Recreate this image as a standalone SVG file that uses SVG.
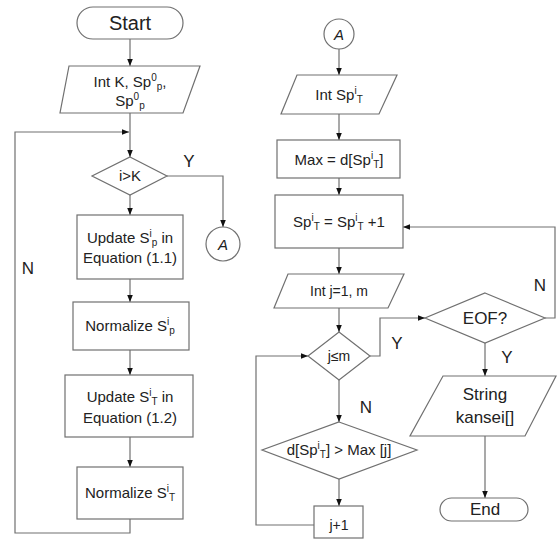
<svg xmlns="http://www.w3.org/2000/svg" width="558" height="544" viewBox="0 0 558 544">
<style>
.s{fill:#fff;stroke:#707070;stroke-width:1.2}
.c{fill:none;stroke:#707070;stroke-width:1.2}
text{font-family:"Liberation Sans",Arial,sans-serif;fill:#222;text-anchor:middle}
.t15{font-size:15px}
.t17{font-size:17px}
.sm{font-size:10px}
</style>
<defs>
<marker id="ah" viewBox="0 0 10 10" refX="10" refY="5" markerWidth="7" markerHeight="7" markerUnits="userSpaceOnUse" orient="auto">
<path d="M0,1 L10,5 L0,9z" fill="#111"/>
</marker>
</defs>
<rect width="558" height="544" fill="#fff"/>
<g id="connectors">
<path class="c" d="M130,39 V66" marker-end="url(#ah)"/>
<path class="c" d="M130,113 V157" marker-end="url(#ah)"/>
<path class="c" d="M130,519 V533 H15 V132 H129" marker-end="url(#ah)"/>
<path class="c" d="M130,195 V215" marker-end="url(#ah)"/>
<path class="c" d="M167,176 H223 V227" marker-end="url(#ah)"/>
<path class="c" d="M130,279 V302" marker-end="url(#ah)"/>
<path class="c" d="M130,350 V375" marker-end="url(#ah)"/>
<path class="c" d="M130,437 V467" marker-end="url(#ah)"/>
<path class="c" d="M339,49 V75" marker-end="url(#ah)"/>
<path class="c" d="M339,114 V140" marker-end="url(#ah)"/>
<path class="c" d="M339,178 V195" marker-end="url(#ah)"/>
<path class="c" d="M339,248 V274" marker-end="url(#ah)"/>
<path class="c" d="M339,308 V332" marker-end="url(#ah)"/>
<path class="c" d="M370,356 H380 V318 H425" marker-end="url(#ah)"/>
<path class="c" d="M545,318 H555 V227 H403" marker-end="url(#ah)"/>
<path class="c" d="M485,343 V376" marker-end="url(#ah)"/>
<path class="c" d="M485,436 V498" marker-end="url(#ah)"/>
<path class="c" d="M339,380 V422" marker-end="url(#ah)"/>
<path class="c" d="M339,479 V506" marker-end="url(#ah)"/>
<path class="c" d="M314,525 H256 V356 H308" marker-end="url(#ah)"/>
</g>
<g id="labels">
<text x="189" y="167" class="t17">Y</text>
<text x="28" y="274" class="t17">N</text>
<text x="540" y="291" class="t17">N</text>
<text x="397" y="349" class="t17">Y</text>
<text x="507" y="363" class="t17">Y</text>
<text x="366" y="413" class="t17">N</text>
</g>
<g id="start">
<rect class="s" x="77" y="7" width="106" height="32" rx="16"/>
<text x="130" y="30" style="font-size:20px">Start</text>
</g>
<g id="input-k">
<polygon class="s" points="69,66 200,66 183,113 60,113"/>
<text x="130" y="87" class="t15">Int K, Sp<tspan class="sm" dy="-6">0</tspan><tspan class="sm" dy="9">p</tspan><tspan dy="-3">,</tspan></text>
<text x="130" y="106" class="t15">Sp<tspan class="sm" dy="-6">0</tspan><tspan class="sm" dy="9">p</tspan></text>
</g>
<g id="dec-ik">
<polygon class="s" points="130,157 167,176 130,195 92,176"/>
<text x="130" y="181" class="t15">i&gt;K</text>
</g>
<g id="conn-a1">
<circle class="s" cx="223" cy="244" r="17"/>
<text x="223" y="250" class="t15" style="font-style:italic">A</text>
</g>
<g id="update-p">
<rect class="s" x="77" y="215" width="106" height="64"/>
<text x="130" y="243" class="t15">Update S<tspan class="sm" dy="-6">i</tspan><tspan class="sm" dy="9">p</tspan><tspan dy="-3"> in</tspan></text>
<text x="130" y="263" class="t15">Equation (1.1)</text>
</g>
<g id="norm-p">
<rect class="s" x="73" y="302" width="116" height="48"/>
<text x="130" y="331" class="t15">Normalize S<tspan class="sm" dy="-6">i</tspan><tspan class="sm" dy="9">p</tspan></text>
</g>
<g id="update-t">
<rect class="s" x="65" y="375" width="128" height="62"/>
<text x="130" y="402" class="t15">Update S<tspan class="sm" dy="-6">i</tspan><tspan class="sm" dy="9">T</tspan><tspan dy="-3"> in</tspan></text>
<text x="130" y="423" class="t15">Equation (1.2)</text>
</g>
<g id="norm-t">
<rect class="s" x="77" y="467" width="106" height="52"/>
<text x="130" y="498" class="t15">Normalize S<tspan class="sm" dy="-6">i</tspan><tspan class="sm" dy="9">T</tspan></text>
</g>
<g id="conn-a2">
<circle class="s" cx="339" cy="34" r="15"/>
<text x="339" y="40" class="t15" style="font-style:italic">A</text>
</g>
<g id="input-sp">
<polygon class="s" points="297,75 397,75 379,114 281,114"/>
<text x="339" y="100" class="t15">Int  Sp<tspan class="sm" dy="-6">i</tspan><tspan class="sm" dy="9">T</tspan></text>
</g>
<g id="max">
<rect class="s" x="277" y="140" width="123" height="38"/>
<text x="339" y="165" class="t15">Max = d[Sp<tspan class="sm" dy="-6">i</tspan><tspan class="sm" dy="9">T</tspan><tspan dy="-3">]</tspan></text>
</g>
<g id="sp-inc">
<rect class="s" x="275" y="195" width="128" height="53"/>
<text x="339" y="227" class="t15">Sp<tspan class="sm" dy="-6">i</tspan><tspan class="sm" dy="9">T</tspan><tspan dy="-3"> = Sp</tspan><tspan class="sm" dy="-6">i</tspan><tspan class="sm" dy="9">T</tspan><tspan dy="-3"> +1</tspan></text>
</g>
<g id="input-j">
<polygon class="s" points="288,274 404,274 388,308 274,308"/>
<text x="339" y="296" style="font-size:14px">Int j=1, m</text>
</g>
<g id="dec-jm">
<polygon class="s" points="339,332 370,356 339,380 308,356"/>
<text x="339" y="361" style="font-size:14px">j≤m</text>
</g>
<g id="dec-eof">
<polygon class="s" points="485,293 545,318 485,343 425,318"/>
<text x="485" y="324" class="t17">EOF?</text>
</g>
<g id="output">
<polygon class="s" points="443,376 556,376 525,436 410,436"/>
<text x="485" y="400" class="t17">String</text>
<text x="485" y="423" class="t17">kansei[]</text>
</g>
<g id="end">
<rect class="s" x="440" y="498" width="88" height="23" rx="11.5"/>
<text x="485" y="515" class="t17">End</text>
</g>
<g id="dec-d">
<polygon class="s" points="339,422 417,450 339,479 262,450"/>
<text x="339" y="455" class="t15">d[Sp<tspan class="sm" dy="-6">i</tspan><tspan class="sm" dy="9">T</tspan><tspan dy="-3">] &gt; Max [j]</tspan></text>
</g>
<g id="j-inc">
<rect class="s" x="314" y="506" width="49" height="32"/>
<text x="339" y="530" style="font-size:14px">j+1</text>
</g>
</svg>
